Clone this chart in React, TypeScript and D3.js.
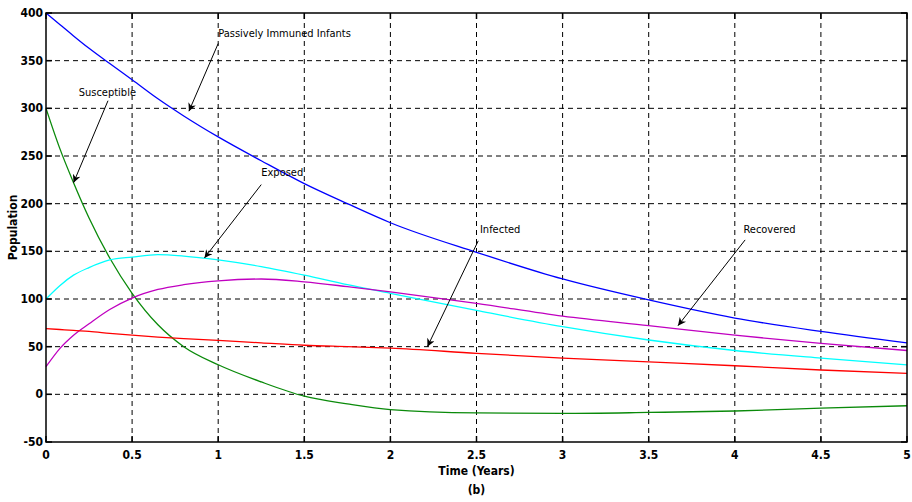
import React from 'react';
import * as d3 from 'd3';

// sampled time points (years)
const times = [0, 0.08, 0.16, 0.25, 0.37, 0.5, 0.65, 0.8, 1, 1.25, 1.5, 1.75, 2, 2.5, 3, 3.5, 4, 4.5, 5];

// series values
const passive = [400, 388, 376, 363, 347, 330, 310, 292, 270, 245, 221, 200, 180, 149, 121, 99, 80, 66, 54];
const susceptible = [300, 258, 222, 185, 143, 106, 73, 50, 31, 13, -2, -10, -16, -19.5, -20, -19, -17.5, -14.5, -12];
const exposed = [100, 114, 125, 133, 141, 144, 146.5, 145, 141, 134, 125, 115, 106, 88, 71, 57, 46, 38, 31];
const recovered = [29, 48, 62, 74, 89, 101, 110, 115, 119, 121, 118, 113, 107.5, 95.5, 82, 72, 62, 53.5, 46];
const infected = [69, 68, 67, 66, 64, 62, 60, 58.5, 56.5, 54, 51.5, 50, 48.5, 43, 38, 34, 30, 25.5, 22];

const xTicks = [0, 0.5, 1, 1.5, 2, 2.5, 3, 3.5, 4, 4.5, 5];
const yTicks = [-50, 0, 50, 100, 150, 200, 250, 300, 350, 400];

// annotations: label, text position, arrow from -> to (data coords)
const notes = [
  { label: 'Passively Immuned Infants', tx: 1.0, ty: 375, ax: 1.0, ay: 368, bx: 0.83, by: 297 },
  { label: 'Susceptible', tx: 0.19, ty: 313, ax: 0.36, ay: 308, bx: 0.16, by: 222 },
  { label: 'Exposed', tx: 1.25, ty: 229, ax: 1.25, ay: 220, bx: 0.92, by: 143 },
  { label: 'Infected', tx: 2.52, ty: 169, ax: 2.51, ay: 161, bx: 2.215, by: 50 },
  { label: 'Recovered', tx: 4.05, ty: 169, ax: 4.06, ay: 162, bx: 3.67, by: 72 },
];

const W = 912;
const H = 502;
const margin = { top: 13, right: 5, bottom: 60, left: 46 };

const font = '"DejaVu Sans", sans-serif';

const App = () => {
  const x = d3.scaleLinear().domain([0, 5]).range([margin.left, W - margin.right]);
  const y = d3.scaleLinear().domain([-50, 400]).range([H - margin.bottom, margin.top]);

  const line = d3.line<number>()
    .x((d, i) => x(times[i]))
    .y(d => y(d))
    .curve(d3.curveMonotoneX);

  const series = [
    { values: passive, color: '#0000ff' },
    { values: susceptible, color: '#0a8a0a' },
    { values: exposed, color: '#00ffff' },
    { values: recovered, color: '#c000c0' },
    { values: infected, color: '#ff0000' },
  ];

  const x0 = x(0), x1 = x(5), y0 = y(-50), y1 = y(400);

  return (
    <svg width={W} height={H} style={{ position: 'absolute', left: 0, top: 0, background: '#fff' }}>
      <defs>
        <marker id="arr" viewBox="0 0 10 10" refX="10" refY="5" markerWidth="11" markerHeight="8"
          markerUnits="userSpaceOnUse" orient="auto">
          <path d="M0,0 L10,5 L0,10 L3,5 Z" fill="#000" />
        </marker>
      </defs>

      {/* grid */}
      <g stroke="#000" strokeWidth={1} strokeDasharray="5,4">
        {xTicks.slice(1, -1).map(t => (
          <line key={'gx' + t} x1={x(t)} x2={x(t)} y1={y0} y2={y1} />
        ))}
        {yTicks.slice(1, -1).map(t => (
          <line key={'gy' + t} x1={x0} x2={x1} y1={y(t)} y2={y(t)} />
        ))}
      </g>

      {/* curves */}
      {series.map((s, i) => (
        <path key={i} d={line(s.values) || ''} fill="none" stroke={s.color} strokeWidth={1.3} />
      ))}

      {/* frame and ticks */}
      <rect x={x0} y={y1} width={x1 - x0} height={y0 - y1} fill="none" stroke="#000" strokeWidth={1.5} />
      <g stroke="#000" strokeWidth={1.5}>
        {xTicks.map(t => (
          <g key={'tx' + t}>
            <line x1={x(t)} x2={x(t)} y1={y0} y2={y0 - 6} />
            <line x1={x(t)} x2={x(t)} y1={y1} y2={y1 + 6} />
          </g>
        ))}
        {yTicks.map(t => (
          <g key={'ty' + t}>
            <line x1={x0} x2={x0 + 6} y1={y(t)} y2={y(t)} />
            <line x1={x1} x2={x1 - 6} y1={y(t)} y2={y(t)} />
          </g>
        ))}
      </g>

      {/* tick labels */}
      <g fontFamily={font} fontStretch="condensed" fontSize={12} fontWeight="bold" fill="#000">
        {xTicks.map(t => (
          <text key={'lx' + t} x={x(t)} y={y0 + 17} textAnchor="middle">{t}</text>
        ))}
        {yTicks.map(t => (
          <text key={'ly' + t} x={x0 - 3} y={y(t) + 4} textAnchor="end">{t}</text>
        ))}
      </g>

      {/* axis titles */}
      <g fontFamily={font} fontStretch="condensed" fontSize={12} fontWeight="bold" fill="#000">
        <text x={(x0 + x1) / 2} y={y0 + 33} textAnchor="middle">Time (Years)</text>
        <text x={(x0 + x1) / 2} y={y0 + 52} textAnchor="middle">(b)</text>
        <text transform={`translate(17,${(y0 + y1) / 2}) rotate(-90)`} textAnchor="middle">Population</text>
      </g>

      {/* annotations */}
      <g fontFamily={font} fontStretch="condensed" fontSize={11} fill="#000">
        {notes.map(n => (
          <g key={n.label}>
            <text x={x(n.tx)} y={y(n.ty)}>{n.label}</text>
            <line x1={x(n.ax)} y1={y(n.ay)} x2={x(n.bx)} y2={y(n.by)} stroke="#000" strokeWidth={1}
              markerEnd="url(#arr)" />
          </g>
        ))}
      </g>
    </svg>
  );
};

export default App;
